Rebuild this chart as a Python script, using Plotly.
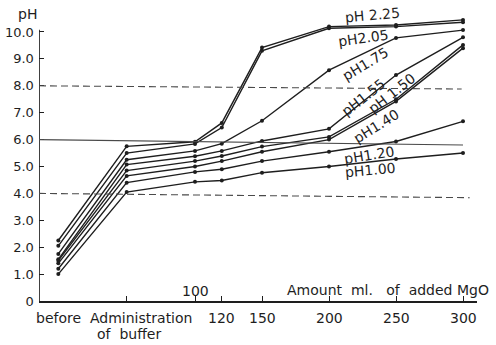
import plotly.graph_objects as go

# x positions: "before" and "administration of buffer" sit on the same linear ml scale
x_steps = [-2, 49, 100, 120, 150, 200, 250, 300]

ph_225 = [2.25, 5.75, 5.92, 6.62, 9.42, 10.20, 10.26, 10.45]
ph_205 = [2.05, 5.50, 5.84, 6.45, 9.30, 10.14, 10.20, 10.36]
ph_175 = [1.75, 5.25, 5.58, 5.85, 6.70, 8.58, 9.78, 10.07]
ph_155 = [1.55, 5.07, 5.38, 5.58, 5.95, 6.40, 8.40, 9.80]
ph_150 = [1.50, 4.85, 5.20, 5.39, 5.74, 6.10, 7.50, 9.52]
ph_140 = [1.40, 4.65, 5.00, 5.20, 5.55, 6.00, 7.42, 9.40]
ph_120 = [1.20, 4.40, 4.80, 4.90, 5.20, 5.55, 5.93, 6.68]
ph_100 = [1.00, 4.05, 4.43, 4.48, 4.77, 5.00, 5.28, 5.50]

series = [ph_225, ph_205, ph_175, ph_155, ph_150, ph_140, ph_120, ph_100]

y_ticks = [0, 1, 2, 3, 4, 5, 6, 7, 8, 9, 10]
y_tick_text = ["0", "1.0", "2.0", "3.0", "4.0", "5.0", "6.0", "7.0", "8.0", "9.0", "10.0"]
x_ticks = [49, 100, 120, 150, 200, 250, 300]
x_below_labels = [("before", -2), ("120", 120), ("150", 150),
                  ("200", 200), ("250", 250), ("300", 300)]

# curve labels: text, x, y, angle
curve_labels = [
    ("pH 2.25", 232.5, 10.62, -5),
    ("pH2.05", 225.5, 9.78, -8),
    ("pH1.75", 227.0, 8.82, -31),
    ("pH1.55", 226.0, 7.58, -38),
    ("pH 1.50", 247.0, 7.74, -38),
    ("pH1.40", 235.5, 6.50, -32),
    ("pH1.20", 230.5, 5.43, -9),
    ("pH1.00", 231.0, 4.86, -5),
]

INK = "#1e1e1e"
FONT = "DejaVu Sans"
TXT = dict(family=FONT, size=14, color=INK)
NUM = dict(family=FONT, size=13, color=INK)

fig = go.Figure()

for ys in series:
    fig.add_trace(go.Scatter(
        x=x_steps, y=ys, mode="lines+markers",
        line=dict(color=INK, width=1.4),
        marker=dict(color=INK, size=4),
        showlegend=False, hoverinfo="skip",
    ))

X_MIN, X_MAX = -16.42, 310.45
Y_MAX = 11.115

shapes = [
    # vertical axis line
    dict(type="line", xref="x", yref="y", x0=X_MIN, x1=X_MIN, y0=0, y1=10.08,
         line=dict(color=INK, width=1.7)),
    # reference levels
    dict(type="line", xref="x", yref="y", x0=X_MIN, x1=299, y0=8.0, y1=7.88,
         line=dict(color="#4a4a4a", width=1.1, dash="7px,4px")),
    dict(type="line", xref="x", yref="y", x0=X_MIN, x1=300, y0=6.0, y1=5.8,
         line=dict(color="#4a4a4a", width=1.1)),
    dict(type="line", xref="x", yref="y", x0=X_MIN, x1=305, y0=4.0, y1=3.84,
         line=dict(color="#4a4a4a", width=1.1, dash="7px,4px")),
]

annotations = []
for text, x, y, ang in curve_labels:
    annotations.append(dict(text=text, x=x, y=y, xref="x", yref="y",
                            showarrow=False, textangle=ang, font=TXT))

for text, x in x_below_labels:
    annotations.append(dict(text=text, x=x, y=-0.057, xref="x", yref="paper",
                            yanchor="middle", showarrow=False, font=TXT))

annotations += [
    dict(text="Administration", x=60, y=-0.057, xref="x", yref="paper",
         yanchor="middle", showarrow=False, font=TXT),
    dict(text="of\u00a0\u00a0buffer", x=51, y=-0.112, xref="x", yref="paper",
         yanchor="middle", showarrow=False, font=TXT),
    dict(text="100", x=100, y=0.37, xref="x", yref="y", showarrow=False, font=TXT),
    dict(text="Amount\u00a0\u00a0ml.\u00a0\u00a0\u00a0of\u00a0\u00a0added\u00a0MgO", x=167, y=0.42,
         xref="x", yref="y", xanchor="left", showarrow=False, font=TXT),
    dict(text="pH", x=-0.027, y=0.96, xref="paper", yref="paper",
         xanchor="center", yanchor="middle", showarrow=False, font=TXT),
]

fig.update_layout(
    width=496, height=345,
    margin=dict(l=39, r=19, t=2, b=44),
    paper_bgcolor="white", plot_bgcolor="white",
    shapes=shapes, annotations=annotations,
    xaxis=dict(range=[X_MIN, X_MAX], showgrid=False, zeroline=False,
               showline=True, linecolor=INK, linewidth=1.7,
               ticks="inside", ticklen=5, tickcolor=INK, tickwidth=1.2,
               tickvals=x_ticks, showticklabels=False),
    yaxis=dict(range=[0, Y_MAX], showgrid=False, zeroline=False, showline=False,
               ticks="inside", ticklen=5, tickcolor=INK, tickwidth=1.2,
               tickvals=y_ticks, ticktext=[t + "\u00a0" for t in y_tick_text],
               tickfont=NUM),
)

fig.write_html("out.html")
